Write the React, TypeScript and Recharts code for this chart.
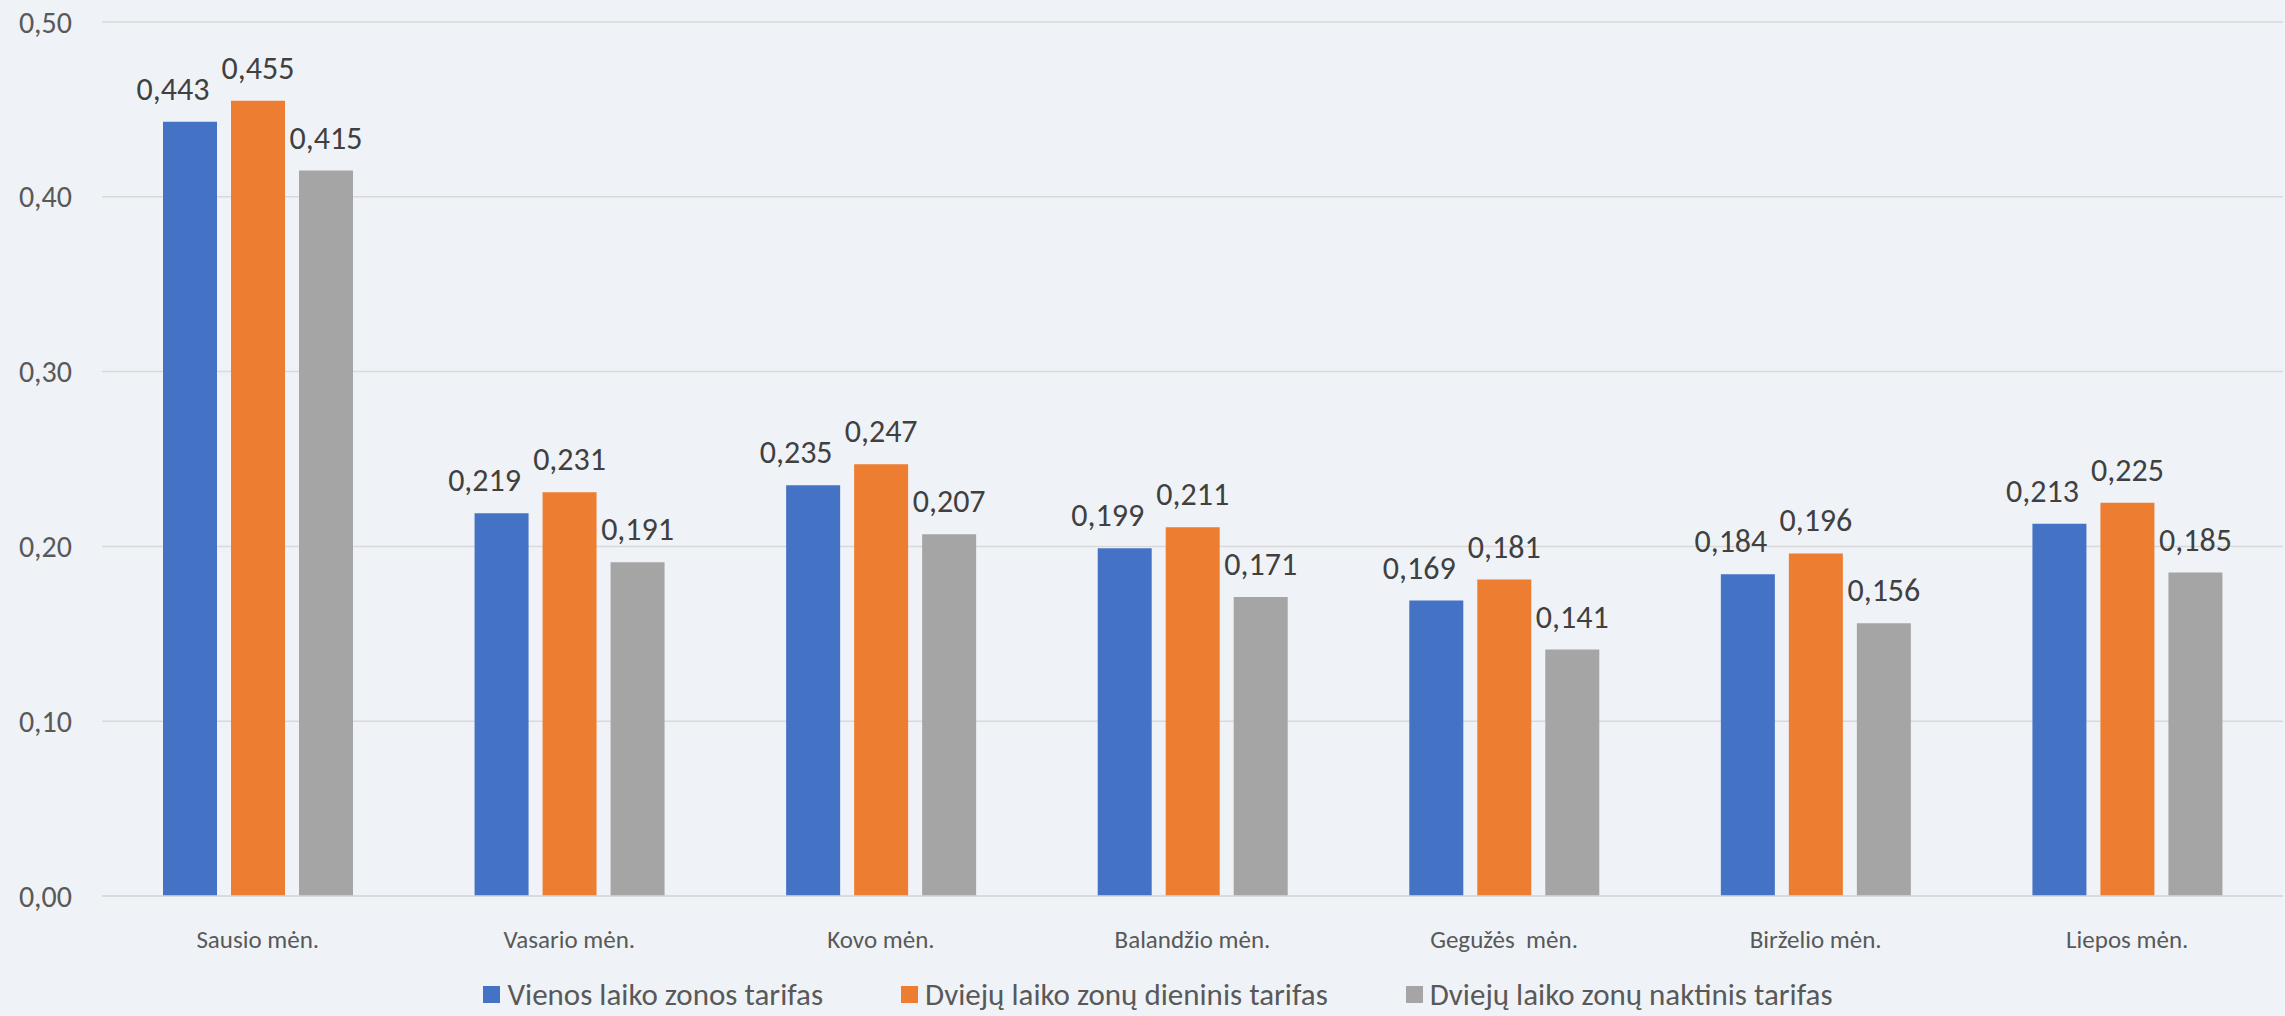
import React from 'react';
import { BarChart, Bar, XAxis, YAxis, CartesianGrid, Legend, LabelList } from 'recharts';

const categories = ['Sausio mėn.', 'Vasario mėn.', 'Kovo mėn.', 'Balandžio mėn.', 'Gegužės  mėn.', 'Birželio mėn.', 'Liepos mėn.'];
const vienos = [0.443, 0.219, 0.235, 0.199, 0.169, 0.184, 0.213];
const dieninis = [0.455, 0.231, 0.247, 0.211, 0.181, 0.196, 0.225];
const naktinis = [0.415, 0.191, 0.207, 0.171, 0.141, 0.156, 0.185];
const yTicks = [0, 0.1, 0.2, 0.3, 0.4, 0.5];

const seriesNames = ['Vienos laiko zonos tarifas', 'Dviejų laiko zonų dieninis tarifas', 'Dviejų laiko zonų naktinis tarifas'];
const colors = ['#4472C4', '#ED7D31', '#A5A5A5'];

const data = categories.map((name, i) => ({
    name,
    vienos: vienos[i],
    dieninis: dieninis[i],
    naktinis: naktinis[i],
}));

const FONT = 'Carlito, Calibri, Lato, sans-serif';

const fmt = (v: number, d: number) => v.toFixed(d).replace('.', ',');

const XTick = ({ x, y, payload }: any) => (
    <text x={x} y={y} dy="0.71em" textAnchor="middle" fill="#595959" fontSize={25} style={{ whiteSpace: 'pre' }}>
        {payload.value}
    </text>
);

const makeLabel = (shift: number) => (props: any) => {
    const { x, y, width, value } = props;
    return (
        <text x={x + width / 2 + shift} y={y - 22} textAnchor="middle" fill="#404040" fontSize={32}>
            {fmt(value, 3)}
        </text>
    );
};

const LegendContent = () => (
    <div style={{ height: 40, paddingTop: 4, boxSizing: 'border-box', display: 'flex', justifyContent: 'center', paddingLeft: 33 }}>
        {seriesNames.map((n, i) => (
            <div key={n} style={{ display: 'flex', alignItems: 'center', height: 28, marginLeft: i === 0 ? 0 : 78 }}>
                <span style={{ width: 17, height: 17, background: colors[i], display: 'inline-block', marginRight: 7 }} />
                <span style={{ fontSize: 31, color: '#595959', lineHeight: '28px', whiteSpace: 'nowrap' }}>{n}</span>
            </div>
        ))}
    </div>
);

export default function App() {
    return (
        <div style={{ width: 2285, height: 1016, background: '#EFF3F7', fontFamily: FONT }}>
            <style>{'body{margin:0}'}</style>
            <BarChart
                width={2285}
                height={1016}
                data={data}
                margin={{ top: 22, right: 2, left: 0, bottom: 0 }}
                barGap={14}
                barSize={54}
            >
                <CartesianGrid vertical={false} stroke="#D9D9D9" strokeWidth={1.5} />
                <XAxis
                    dataKey="name"
                    height={80}
                    tickLine={false}
                    tickSize={0}
                    tickMargin={34}
                    axisLine={{ stroke: '#D9D9D9', strokeWidth: 1.5 }}
                    tick={<XTick />}
                    interval={0}
                />
                <YAxis
                    width={102}
                    domain={[0, 0.5]}
                    ticks={yTicks}
                    axisLine={false}
                    tickLine={false}
                    tickSize={0}
                    tickMargin={30}
                    tick={{ fill: '#595959', fontSize: 30 }}
                    tickFormatter={(v: number) => fmt(v, 2)}
                />
                <Legend verticalAlign="bottom" content={<LegendContent />} />
                <Bar dataKey="vienos" name={seriesNames[0]} fill={colors[0]} isAnimationActive={false}>
                    <LabelList dataKey="vienos" content={makeLabel(-17)} />
                </Bar>
                <Bar dataKey="dieninis" name={seriesNames[1]} fill={colors[1]} isAnimationActive={false}>
                    <LabelList dataKey="dieninis" content={makeLabel(0)} />
                </Bar>
                <Bar dataKey="naktinis" name={seriesNames[2]} fill={colors[2]} isAnimationActive={false}>
                    <LabelList dataKey="naktinis" content={makeLabel(0)} />
                </Bar>
            </BarChart>
        </div>
    );
}
